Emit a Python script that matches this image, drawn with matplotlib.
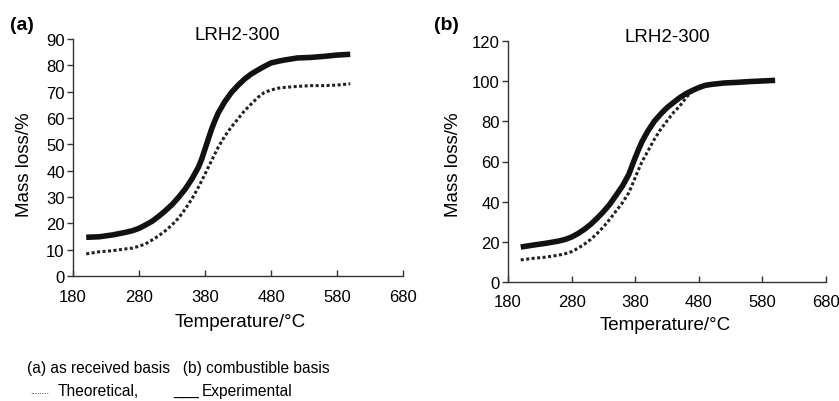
import matplotlib
matplotlib.use("Agg")
import matplotlib.pyplot as plt

plt.rcParams['font.family'] = ['Liberation Sans', 'DejaVu Sans']

temp = [200, 220, 240, 260, 270, 280, 290, 300, 310, 320, 330, 340, 350, 360, 370, 375, 380, 385,
        390, 395, 400, 410, 420, 430, 440, 450, 460, 470, 480, 490, 500, 520, 540, 560, 580, 600]

exp_a = [14.7, 14.9, 15.6, 16.6, 17.2, 18.1, 19.4, 20.8, 22.7, 24.8, 27.1, 29.9, 33.0, 36.8, 41.3, 44.4, 48.2, 52.0,
         55.8, 59.0, 61.9, 66.2, 69.7, 72.4, 74.8, 76.7, 78.2, 79.6, 80.9, 81.5, 82.0, 82.8, 83.0, 83.4, 83.9, 84.2]
theo_a = [8.4, 9.2, 9.6, 10.3, 10.6, 11.3, 12.2, 13.7, 15.3, 17.2, 19.4, 22.0, 25.4, 29.2, 33.7, 36.2, 38.7, 41.3,
          43.8, 46.4, 48.9, 53.1, 56.6, 59.7, 62.8, 65.3, 67.8, 69.7, 70.6, 71.3, 71.6, 72.0, 72.3, 72.3, 72.5, 73.0]

exp_b = [17.4, 18.4, 19.3, 20.4, 21.2, 22.4, 24.1, 26.2, 28.7, 31.7, 35.0, 38.7, 43.2, 47.8, 53.6, 57.8, 61.9, 65.8,
         69.4, 72.4, 75.2, 80.0, 83.6, 86.8, 89.3, 91.8, 93.8, 95.4, 96.8, 97.9, 98.4, 99.1, 99.4, 99.8, 100.1, 100.4]
theo_b = [11.0, 11.8, 12.4, 13.4, 14.1, 15.1, 16.8, 18.8, 21.2, 24.1, 27.4, 31.2, 35.4, 39.5, 44.5, 48.2, 52.0, 55.8,
          59.4, 62.4, 65.2, 71.0, 76.0, 80.2, 84.3, 87.6, 91.8, 95.1, 96.8, 97.9, 98.4, 99.1, 99.4, 99.8, 100.1, 100.4]

x_ticks = [180, 280, 380, 480, 580, 680]
y_ticks_a = list(range(0, 91, 10))
y_ticks_b = list(range(0, 121, 20))

W, H = 839, 402
fig = plt.figure(figsize=(W / 100, H / 100), dpi=100)


def px_axes(l, t, r, b):
    return fig.add_axes([l / W, 1 - b / H, (r - l) / W, (b - t) / H])


def ftext(x, y, s, **kw):
    fig.text(x / W, 1 - y / H, s, **kw)


def style(ax, yt, ymax):
    ax.set_xlim(180, 680)
    ax.set_ylim(0, ymax)
    ax.set_xticks(x_ticks)
    ax.set_yticks(yt)
    for s in ['top', 'right']:
        ax.spines[s].set_visible(False)
    for s in ['left', 'bottom']:
        ax.spines[s].set_linewidth(1.0)
        ax.spines[s].set_color('#333333')
    ax.tick_params(axis='y', direction='out', length=4, width=1.0, labelsize=12, pad=2, color='#333333')
    ax.tick_params(axis='x', direction='in', length=4, width=1.0, labelsize=12, pad=9, color='#333333')


ax1 = px_axes(73, 40, 403, 277)
ax1.plot(temp, theo_a, color='#222222', lw=2.2, ls=(0, (1, 0.8)))
ax1.plot(temp, exp_a, color='#111111', lw=4.0, solid_capstyle='butt')
style(ax1, y_ticks_a, 90)

ax2 = px_axes(508, 42, 826, 283)
ax2.plot(temp, theo_b, color='#222222', lw=2.2, ls=(0, (1, 0.8)))
ax2.plot(temp, exp_b, color='#111111', lw=4.0, solid_capstyle='butt')
style(ax2, y_ticks_b, 120)

# panel labels and titles
ftext(22, 25, '(a)', fontsize=14, fontweight='bold', ha='center', va='center')
ftext(446, 26, '(b)', fontsize=14, fontweight='bold', ha='center', va='center')
ftext(237, 35, 'LRH2-300', fontsize=13.5, ha='center', va='center')
ftext(667, 38, 'LRH2-300', fontsize=13.5, ha='center', va='center')

# axis labels
ftext(25, 165, 'Mass loss/%', fontsize=13.5, ha='center', va='center', rotation=90)
ftext(453, 165, 'Mass loss/%', fontsize=13.5, ha='center', va='center', rotation=90)
ftext(240, 323, 'Temperature/°C', fontsize=13.5, ha='center', va='center')
ftext(665, 326, 'Temperature/°C', fontsize=13.5, ha='center', va='center')

# caption
ftext(27, 368, '(a) as received basis   (b) combustible basis', fontsize=11.2, ha='left', va='center')
ftext(30, 394, '........', fontsize=6, ha='left', va='baseline')
ftext(58, 392, 'Theoretical,', fontsize=11.2, ha='left', va='center')
ftext(173, 392, '___', fontsize=11.2, ha='left', va='center')
ftext(202, 392, 'Experimental', fontsize=11.2, ha='left', va='center')

fig.savefig('out.png', dpi=100)
